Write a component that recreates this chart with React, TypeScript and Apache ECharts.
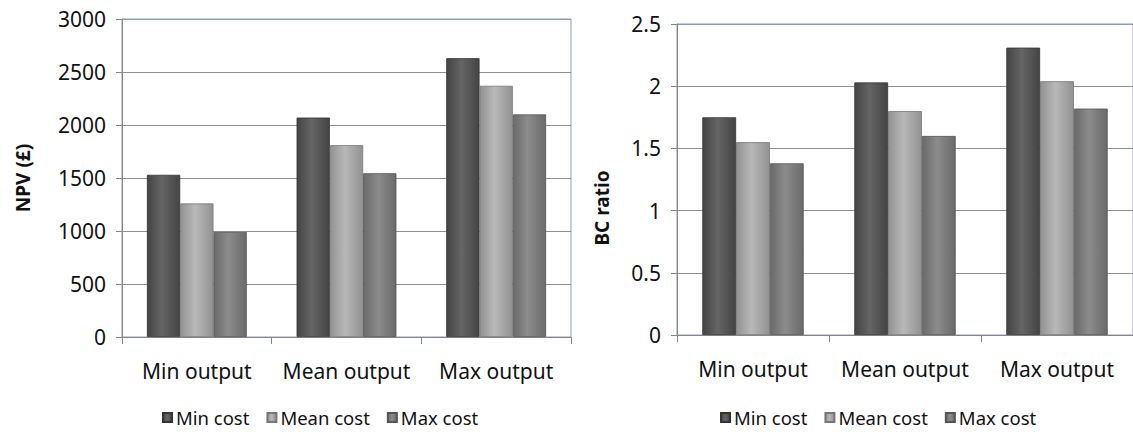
import React, { useEffect, useRef } from "react";
import * as echarts from "echarts";

const categories = ["Min output", "Mean output", "Max output"];
const seriesNames = ["Min cost", "Mean cost", "Max cost"];
const npvMinCost = [1530, 2070, 2630];
const npvMeanCost = [1260, 1810, 2370];
const npvMaxCost = [990, 1545, 2100];
const bcMinCost = [1.75, 2.03, 2.31];
const bcMeanCost = [1.55, 1.8, 2.04];
const bcMaxCost = [1.38, 1.6, 1.82];

const FONT = "'Noto Sans', 'Open Sans', sans-serif";

const palette = [
  { edge: "#444444", mid: "#656565", border: "#333333" },
  { edge: "#929292", mid: "#b8b8b8", border: "#777777" },
  { edge: "#6a6a6a", mid: "#8c8c8c", border: "#555555" },
];

function grad(i: number) {
  const p = palette[i];
  return {
    type: "linear",
    x: 0,
    y: 0,
    x2: 1,
    y2: 0,
    colorStops: [
      { offset: 0, color: p.edge },
      { offset: 0.45, color: p.mid },
      { offset: 1, color: p.edge },
    ],
  };
}

export default function App() {
  const ref = useRef<HTMLDivElement>(null);
  useEffect(() => {
    document.body.style.margin = "0";
    if (!ref.current) return;
    const chart = echarts.init(ref.current, undefined, { renderer: "svg" });

    const gridLine = "#8f8f8f";
    const borderBlue = "#8b9dba";

    const makeY = (gridIndex: number, max: number, interval: number, n: number) => ({
      type: "value",
      gridIndex,
      min: 0,
      max,
      interval,
      axisLine: { show: true, lineStyle: { color: "#868686", width: 1 } },
      axisTick: { show: true, length: 6, lineStyle: { color: "#868686" } },
      axisLabel: {
        color: "#111",
        fontSize: 21,
        fontFamily: FONT,
        margin: 16,
        formatter: (v: number) => String(v),
      },
      splitLine: {
        show: true,
        lineStyle: {
          color: Array.from({ length: n }, (_, k) => (k === n - 1 ? borderBlue : gridLine)),
          width: 1,
        },
      },
    });

    const makeX = (gridIndex: number) => ({
      type: "category",
      gridIndex,
      data: categories,
      axisLine: { show: true, lineStyle: { color: "#868686", width: 1 } },
      axisTick: { show: true, length: 7, alignWithLabel: false, lineStyle: { color: "#868686" } },
      axisLabel: { color: "#111", fontSize: 21, fontFamily: FONT, margin: 23, interval: 0 },
      splitLine: { show: false },
    });

    const mkSeries = (name: string, data: number[], idx: number, axis: number) => ({
      name,
      type: "bar",
      xAxisIndex: axis,
      yAxisIndex: axis,
      data,
      barGap: "0%",
      barCategoryGap: "33.3%",
      itemStyle: { color: grad(idx), borderColor: palette[idx].border, borderWidth: 0.8 },
    });

    const legendBase = {
      data: seriesNames,
      icon: "rect",
      itemWidth: 9,
      itemHeight: 9,
      itemGap: 17,
      top: 403,
      textStyle: { color: "#111", fontSize: 18.5, fontFamily: FONT, padding: [0, 0, 0, -1] },
    };

    chart.setOption({
      animation: false,
      backgroundColor: "#ffffff",
      grid: [
        { left: 122, top: 19, width: 449, height: 318, show: true, borderColor: borderBlue, borderWidth: 1 },
        { left: 677, top: 24, width: 461, height: 311, show: true, borderColor: borderBlue, borderWidth: 1 },
      ],
      xAxis: [makeX(0), makeX(1)],
      yAxis: [makeY(0, 3000, 500, 7), makeY(1, 2.5, 0.5, 6)],
      legend: [
        { ...legendBase, left: 157 },
        { ...legendBase, left: 715 },
      ],
      series: [
        mkSeries(seriesNames[0], npvMinCost, 0, 0),
        mkSeries(seriesNames[1], npvMeanCost, 1, 0),
        mkSeries(seriesNames[2], npvMaxCost, 2, 0),
        mkSeries(seriesNames[0], bcMinCost, 0, 1),
        mkSeries(seriesNames[1], bcMeanCost, 1, 1),
        mkSeries(seriesNames[2], bcMaxCost, 2, 1),
      ],
      graphic: [
        {
          type: "text",
          x: 23,
          y: 178,
          rotation: Math.PI / 2,
          style: {
            text: "NPV (£)",
            font: `bold 19px ${FONT}`,
            fill: "#111",
            textAlign: "center",
            textVerticalAlign: "middle",
          },
        },
        {
          type: "text",
          x: 602,
          y: 208,
          rotation: Math.PI / 2,
          style: {
            text: "BC ratio",
            font: `bold 19px ${FONT}`,
            fill: "#111",
            textAlign: "center",
            textVerticalAlign: "middle",
          },
        },
      ],
    });
    return () => chart.dispose();
  }, []);
  return <div ref={ref} style={{ width: 1133, height: 443 }} />;
}
